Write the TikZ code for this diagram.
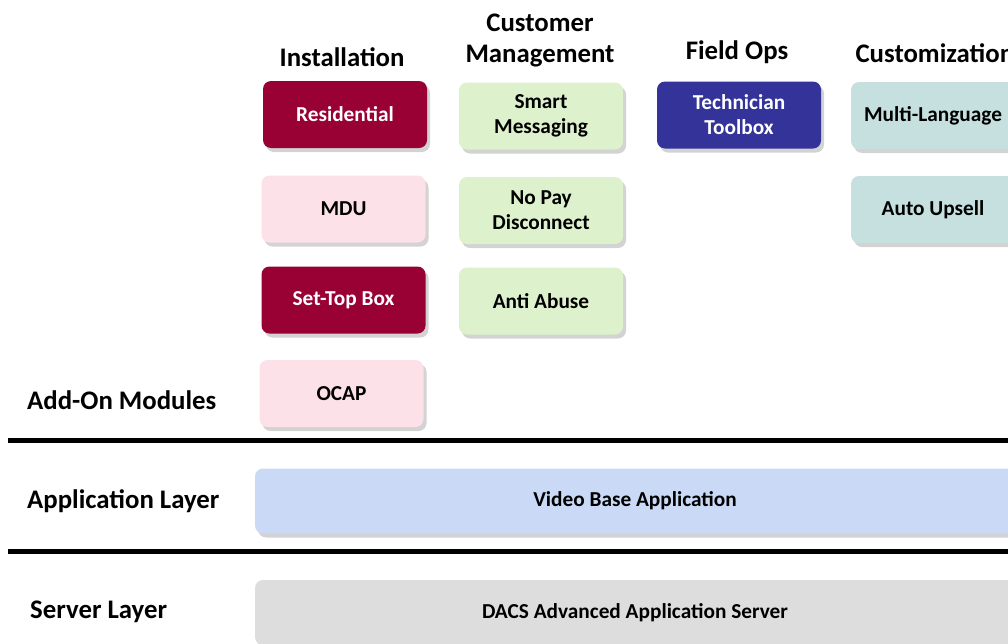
\documentclass[tikz,border=0pt]{standalone}
\usepackage{fontspec}
\setmainfont{Carlito}
\usepackage{tikz}
\usetikzlibrary{shadows}
\definecolor{mwine}{RGB}{153,0,51}
\definecolor{mpink}{RGB}{253,225,233}
\definecolor{mgreen}{RGB}{221,241,204}
\definecolor{mnavy}{RGB}{51,51,153}
\definecolor{mteal}{RGB}{197,224,223}
\definecolor{mblue}{RGB}{201,217,246}
\definecolor{mgray}{RGB}{221,221,221}

\tikzset{
  module/.style={rounded corners=8pt, minimum width=164pt, minimum height=67pt,
    align=center, font=\fontsize{21.3}{25}\selectfont\bfseries, inner sep=0pt,
    drop shadow={shadow xshift=3pt, shadow yshift=-4pt, opacity=0.35}},
  layerbox/.style={module, minimum width=760pt, minimum height=65pt},
  heading/.style={font=\fontsize{26.8}{31}\selectfont\bfseries, align=center},
  sidelabel/.style={font=\fontsize{26.8}{31}\selectfont\bfseries, anchor=west, inner sep=0pt},
  divider/.style={line width=5pt}
}

\begin{document}
\begin{tikzpicture}[x=1pt, y=-1pt]

\useasboundingbox (0,0) rectangle (1008,643);
\clip (0,0) rectangle (1008,643);

% headings
\node[heading] (hinst) at (342,57)  {Installation};
\node[heading] (hcust) at (540,40)  {Customer\\Management};
\node[heading] (hfield) at (737,52) {Field Ops};
\node[heading, anchor=west] (hcustom) at (852,53) {Customization};

% installation
\node[module, fill=mwine, text=white] (resid) at (345,114.5)   {Residential};
\node[module, fill=mpink]             (mdu)   at (343.5,209) {MDU};
\node[module, fill=mwine, text=white] (stb)   at (343.5,300) {Set-Top Box};
\node[module, fill=mpink]             (ocap)  at (341.5,393.5) {OCAP};

% customer management
\node[module, fill=mgreen] (smart)  at (541,116) {Smart\\Messaging};
\node[module, fill=mgreen] (nopay)  at (541,210.5)   {No Pay\\Disconnect};
\node[module, fill=mgreen] (abuse)  at (541,301)   {Anti Abuse};

% field ops
\node[module, fill=mnavy, text=white] (tech) at (739,115) {Technician\\Toolbox};

% customization
\node[module, fill=mteal] (multi)  at (933,115.5) {Multi-Language};
\node[module, fill=mteal] (upsell) at (933,209.5)   {Auto Upsell};

% layers
\node[sidelabel] (laddon) at (27,400) {Add-On Modules};
\draw[divider] (8,440) -- (1008,440);
\node[sidelabel] (lapp) at (27,501) {Application Layer};
\node[layerbox, fill=mblue] (video) at (635,501) {Video Base Application};
\draw[divider] (8,551) -- (1008,551);
\node[sidelabel] (lserver) at (30,612) {Server Layer};
\node[layerbox, fill=mgray] (dacs) at (635,612.5) {DACS Advanced Application Server};

\end{tikzpicture}
\end{document}
